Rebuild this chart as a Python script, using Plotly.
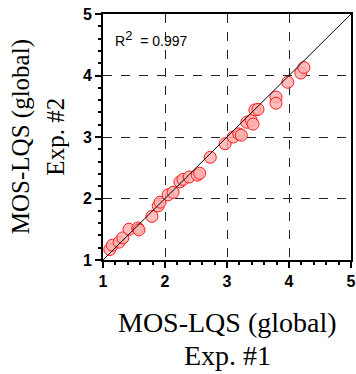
import plotly.graph_objects as go

exp1 = [1.11, 1.15, 1.26, 1.32, 1.42, 1.56, 1.58, 1.79, 1.89, 1.92, 2.05, 2.13, 2.24, 2.29,
        2.39, 2.52, 2.56, 2.73, 2.97, 3.10, 3.19, 3.23, 3.32, 3.39, 3.42, 3.45, 3.50, 3.79,
        3.79, 3.98, 4.19, 4.24]
exp2 = [1.17, 1.24, 1.29, 1.36, 1.50, 1.52, 1.49, 1.71, 1.88, 1.94, 2.06, 2.10, 2.27, 2.31,
        2.35, 2.38, 2.41, 2.67, 2.89, 3.00, 3.05, 3.03, 3.24, 3.27, 3.21, 3.44, 3.45, 3.65,
        3.55, 3.89, 4.04, 4.13]
diag = [1, 5]
ticks = [1, 2, 3, 4, 5]
r2_text = "R<sup><span style='font-size:13px'>2</span></sup>  = 0.997"
xtitle = ["MOS-LQS (global)", "Exp. #1"]
ytitle = ["MOS-LQS (global)", "Exp. #2"]

fig = go.Figure()
fig.add_trace(go.Scatter(
    x=exp1, y=exp2, mode="markers",
    marker=dict(size=12, color="rgba(255,175,175,0.8)", line=dict(color="#ff1a1a", width=1)),
    showlegend=False, hoverinfo="skip"))
fig.add_trace(go.Scatter(x=diag, y=diag, mode="lines", line=dict(color="black", width=1),
                         showlegend=False, hoverinfo="skip"))

axis_common = dict(
    range=[1, 5], tickvals=ticks, ticktext=["<b>%d</b>" % t for t in ticks],
    showgrid=True, gridcolor="#222222", griddash="dash", gridwidth=1,
    showline=True, linecolor="black", linewidth=2, mirror=True,
    ticks="outside", ticklen=6, tickwidth=1.5, tickcolor="black",
    minor=dict(dtick=0.2, ticks="outside", ticklen=3, tickcolor="black", showgrid=False),
    tickfont=dict(family="Liberation Sans, Arial", size=16, color="black"),
    zeroline=False, fixedrange=True, automargin=False,
)
fig.update_xaxes(**axis_common)
fig.update_yaxes(**axis_common)

serif = dict(family="Liberation Serif, Times New Roman", color="black")
anns = [
    dict(text=r2_text, x=0.04, y=0.9, xref="paper", yref="paper", xanchor="left",
         yanchor="middle", showarrow=False,
         font=dict(family="Liberation Sans, Arial", size=14, color="black")),
    dict(text=xtitle[0], x=0.5, y=-0.255, xref="paper", yref="paper", xanchor="center",
         yanchor="middle", showarrow=False, font=dict(size=28, **serif)),
    dict(text=xtitle[1], x=0.5, y=-0.39, xref="paper", yref="paper", xanchor="center",
         yanchor="middle", showarrow=False, font=dict(size=28, **serif)),
    dict(text=ytitle[0], x=-0.33, y=0.5, xref="paper", yref="paper", xanchor="center",
         yanchor="middle", showarrow=False, textangle=-90, font=dict(size=25, **serif)),
    dict(text=ytitle[1], x=-0.195, y=0.5, xref="paper", yref="paper", xanchor="center",
         yanchor="middle", showarrow=False, textangle=-90, font=dict(size=25, **serif)),
]
fig.update_layout(
    width=356, height=374,
    margin=dict(l=103, r=5, t=14, b=114),
    paper_bgcolor="white", plot_bgcolor="white",
    annotations=anns,
)
fig.write_html("out.html", config={"displayModeBar": False})
